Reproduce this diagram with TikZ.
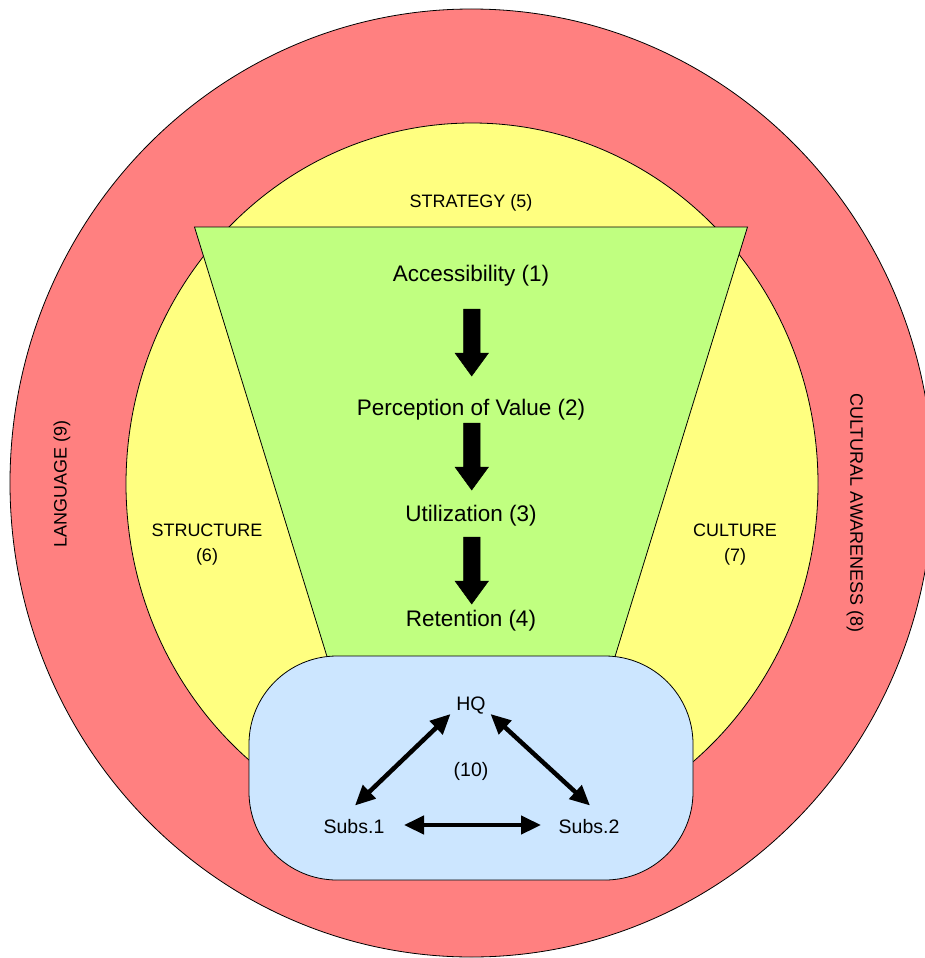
\documentclass[tikz,border=0pt]{standalone}
\usepackage{fontspec}
\setmainfont{Liberation Sans}
\usetikzlibrary{arrows.meta}
\definecolor{ringred}{RGB}{255,128,128}
\definecolor{ringyellow}{RGB}{255,255,128}
\definecolor{funnelgreen}{RGB}{192,255,128}
\definecolor{boxblue}{RGB}{204,230,255}
\tikzset{
  outline/.style={draw=black,line width=0.8pt},
  bigtxt/.style={font=\fontsize{22.5}{26}\selectfont,inner sep=2pt},
  midtxt/.style={font=\fontsize{18}{25}\selectfont,align=center,inner sep=2pt},
  smalltxt/.style={font=\fontsize{19.5}{23}\selectfont,inner sep=2pt},
  blockarrow/.style={fill=black,draw=black,line width=0.5pt},
  linkarrow/.style={line width=4.5pt,{Triangle[length=20pt,width=18pt]}-{Triangle[length=20pt,width=18pt]}}
}
\begin{document}
\begin{tikzpicture}[x=1pt,y=-1pt]
\useasboundingbox (0,0) rectangle (925,958);
% rings
\draw[outline,fill=ringred] (471.5,483) ellipse [x radius=461.5pt, y radius=474pt];
\draw[outline,fill=ringyellow] (472,484) ellipse [x radius=346pt, y radius=361pt];
% funnel
\draw[outline,fill=funnelgreen] (194.5,227) -- (747.5,227) -- (609,676) -- (333,676) -- cycle;
% HQ box
\draw[outline,fill=boxblue,rounded corners=88pt] (249,656) rectangle (693,880);
% ring labels
\node[midtxt] (strategy) at (471,203) {STRATEGY (5)};
\node[midtxt] (structure) at (207,545) {STRUCTURE\\(6)};
\node[midtxt] (culture) at (735,545) {CULTURE\\(7)};
\node[midtxt,rotate=90] (language) at (62,484) {LANGUAGE (9)};
\node[midtxt,rotate=-90] (awareness) at (855,513) {CULTURAL AWARENESS (8)};
% funnel labels
\node[bigtxt] (access) at (471,275.5) {Accessibility (1)};
\node[bigtxt] (percep) at (471,409.5) {Perception of Value (2)};
\node[bigtxt] (util) at (471,515.5) {Utilization (3)};
\node[bigtxt] (reten) at (471,620.5) {Retention (4)};
% block arrows
\foreach \t in {309,423,537}{
  \draw[blockarrow] (463.5,\t) -- (480,\t) -- (480,\t+44) -- (488.5,\t+44) -- (471.7,\t+67) -- (455,\t+44) -- (463.5,\t+44) -- cycle;
}
% box contents
\node[smalltxt] (hq) at (471,706) {HQ};
\node[smalltxt] (ten) at (471,771) {(10)};
\node[smalltxt] (subsA) at (354,827) {Subs.1};
\node[smalltxt] (subsB) at (589,827) {Subs.2};
\coordinate (hqL) at (450.5,714);
\coordinate (hqR) at (490.5,714);
\coordinate (aT) at (355,805.5);
\coordinate (bT) at (590,805.5);
\coordinate (aR) at (404,825);
\coordinate (bL) at (541,825);
\draw[linkarrow] (hqL) -- (aT);
\draw[linkarrow] (hqR) -- (bT);
\draw[linkarrow] (aR) -- (bL);
\end{tikzpicture}
\end{document}
